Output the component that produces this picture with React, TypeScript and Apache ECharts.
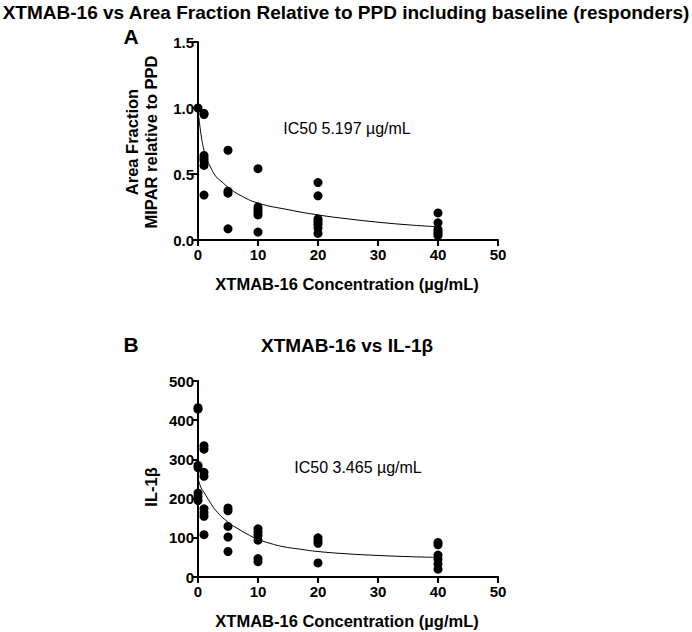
import React, { useEffect, useRef } from "react";
import * as echarts from "echarts";

// ---- Panel A data (Area Fraction MIPAR relative to PPD) ----
const concA = [0, 1, 5, 10, 20, 40];
const areaFraction: number[][] = [
  [1.0],
  [0.96, 0.95, 0.64, 0.62, 0.6, 0.565, 0.34],
  [0.68, 0.37, 0.355, 0.085],
  [0.54, 0.25, 0.23, 0.21, 0.19, 0.06],
  [0.435, 0.335, 0.16, 0.14, 0.12, 0.09, 0.05],
  [0.205, 0.13, 0.08, 0.065, 0.05, 0.035],
];
const fitAx = [0.15, 0.5, 1, 1.5, 2, 3, 4, 5, 7, 10, 15, 20, 25, 30, 35, 40];
const fitAy = [0.93, 0.8, 0.68, 0.61, 0.56, 0.48, 0.44, 0.4, 0.34, 0.28, 0.23, 0.19, 0.16, 0.135, 0.115, 0.1];

// ---- Panel B data (IL-1β) ----
const concB = [0, 1, 5, 10, 20, 40];
const il1b: number[][] = [
  [432, 428, 285, 279, 214, 205, 195],
  [335, 326, 267, 257, 174, 164, 155, 108],
  [176, 169, 129, 102, 65],
  [123, 114, 106, 94, 47, 39],
  [100, 93, 86, 36],
  [88, 82, 56, 45, 33, 20],
];
const fitBx = [0.05, 0.5, 1, 2, 3, 5, 7, 8, 10, 12, 14, 17, 20, 25, 30, 35, 40];
const fitBy = [250, 228, 216, 191, 169, 140, 120, 111, 96, 86, 78, 71, 65, 59, 55, 52, 50];

const FONT = "'Liberation Sans', Arial, Helvetica, sans-serif";

function pairs(xs: number[], groups: number[][]) {
  const out: number[][] = [];
  xs.forEach((x, i) => groups[i].forEach((v) => out.push([x, v])));
  return out;
}

export default function App() {
  const ref = useRef<HTMLDivElement>(null);
  useEffect(() => {
    if (!ref.current) return;
    const chart = echarts.init(ref.current, undefined, { renderer: "svg" });
    const axisCommon = {
      axisLine: { show: true, onZero: false, lineStyle: { color: "#000", width: 2 } },
      axisTick: { show: true, length: 6, lineStyle: { color: "#000", width: 2 } },
      splitLine: { show: false },
    };
    const xAxisFor = (gi: number) => ({
      type: "value",
      gridIndex: gi,
      min: 0,
      max: 50,
      interval: 10,
      ...axisCommon,
      axisLabel: { color: "#000", fontFamily: FONT, fontWeight: "bold", fontSize: 15, margin: 7 },
    });
    const text = (x: number, y: number, t: string, font: string, rot = 0) => ({
      type: "text",
      x,
      y,
      rotation: rot,
      style: { text: t, fill: "#000", font, align: "center", verticalAlign: "middle" },
    });
    const option = {
      animation: false,
      backgroundColor: "#fff",
      grid: [
        { left: 198, right: 194, top: 42, bottom: 392, containLabel: false },
        { left: 198, right: 194, top: 381, bottom: 55, containLabel: false },
      ],
      xAxis: [xAxisFor(0), xAxisFor(1)],
      yAxis: [
        {
          type: "value",
          gridIndex: 0,
          min: 0,
          max: 1.5,
          interval: 0.5,
          ...axisCommon,
          axisLabel: {
            color: "#000",
            fontFamily: FONT,
            fontWeight: "bold",
            fontSize: 15,
            margin: 4,
            formatter: (v: number) => v.toFixed(1),
          },
        },
        {
          type: "value",
          gridIndex: 1,
          min: 0,
          max: 500,
          interval: 100,
          ...axisCommon,
          axisLabel: { color: "#000", fontFamily: FONT, fontWeight: "bold", fontSize: 15, margin: 4 },
        },
      ],
      series: [
        {
          type: "line",
          xAxisIndex: 0,
          yAxisIndex: 0,
          data: fitAx.map((x, i) => [x, fitAy[i]]),
          smooth: true,
          showSymbol: false,
          lineStyle: { color: "#000", width: 1 },
          z: 1,
        },
        {
          type: "scatter",
          xAxisIndex: 0,
          yAxisIndex: 0,
          data: pairs(concA, areaFraction),
          symbolSize: 9,
          itemStyle: { color: "#000", opacity: 1 },
          z: 2,
        },
        {
          type: "line",
          xAxisIndex: 1,
          yAxisIndex: 1,
          data: fitBx.map((x, i) => [x, fitBy[i]]),
          smooth: true,
          showSymbol: false,
          lineStyle: { color: "#000", width: 1 },
          z: 1,
        },
        {
          type: "scatter",
          xAxisIndex: 1,
          yAxisIndex: 1,
          data: pairs(concB, il1b),
          symbolSize: 9,
          itemStyle: { color: "#000", opacity: 1 },
          z: 2,
        },
      ],
      graphic: [
        text(346, 12, "XTMAB-16 vs Area Fraction Relative to PPD including baseline (responders)", `bold 19px ${FONT}`),
        text(131, 36, "A", `bold 21px ${FONT}`),
        text(131, 344, "B", `bold 21px ${FONT}`),
        text(347, 345, "XTMAB-16 vs IL-1β", `bold 19px ${FONT}`),
        text(347, 128, "IC50 5.197 µg/mL", `16px ${FONT}`),
        text(358, 467, "IC50 3.465 µg/mL", `16px ${FONT}`),
        text(132, 142, "Area Fraction", `bold 16.5px ${FONT}`, Math.PI / 2),
        text(151, 142, "MIPAR relative to PPD", `bold 16.5px ${FONT}`, Math.PI / 2),
        text(151, 487, "IL-1β", `bold 16.5px ${FONT}`, Math.PI / 2),
        text(347, 284, "XTMAB-16 Concentration (µg/mL)", `bold 16.5px ${FONT}`),
        text(347, 621, "XTMAB-16 Concentration (µg/mL)", `bold 16.5px ${FONT}`),
      ],
    };
    chart.setOption(option as any);
    return () => chart.dispose();
  }, []);
  return (
    <div
      ref={ref}
      style={{ position: "fixed", left: 0, top: 0, width: 692, height: 632, background: "#fff" }}
    />
  );
}
